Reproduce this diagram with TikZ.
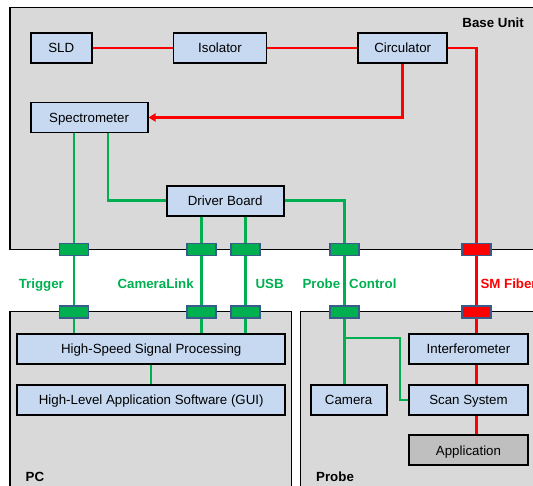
\documentclass[tikz,border=0pt]{standalone}
\usepackage{fontspec}
\setmainfont{Liberation Sans}
\usetikzlibrary{arrows.meta}
\definecolor{boxblue}{HTML}{C6D9F1}
\definecolor{unitgray}{HTML}{D9D9D9}
\definecolor{appgray}{HTML}{BFBFBF}
\definecolor{wiregreen}{HTML}{00B050}
\definecolor{portedge}{HTML}{385D8A}

\begin{document}
\begin{tikzpicture}[
  x=1pt, y=-1pt,
  >={Triangle[length=7pt,width=8pt]},
  font={\fontsize{13.3}{15}\selectfont},
  unitbox/.style={draw=black, fill=unitgray, line width=1.6pt},
  blknode/.style={draw=black, fill=boxblue, line width=1.8pt, minimum height=30pt, inner sep=2pt, text height=9.6pt, text depth=0pt},
  fibre/.style={draw=red, line width=2.6pt},
  wire/.style={draw=wiregreen, line width=2.4pt},
  port/.style={draw=portedge, line width=1.6pt, minimum width=29pt, minimum height=12pt, inner sep=0pt},
  grnport/.style={port, fill=wiregreen},
  redport/.style={port, fill=red},
  unitlbl/.style={font={\fontsize{13.3}{15}\selectfont\bfseries}, inner sep=0pt},
  linklbl/.style={font={\fontsize{13.3}{15}\selectfont\bfseries}, text=wiregreen, inner sep=0pt, anchor=base}
]
\useasboundingbox (0,0) rectangle (533,486);
\clip (0,0) rectangle (533,486);

% housings
\draw[unitbox] (10.2,7.5) rectangle (545,249.4);
\draw[unitbox] (10.2,311.6) rectangle (291.5,500);
\draw[unitbox] (300.3,311.6) rectangle (545,500);
\node[unitlbl, anchor=base east] (baselbl) at (524,27.8) {Base Unit};
\node[unitlbl, anchor=base west] (pclbl) at (25.5,481.4) {PC};
\node[unitlbl, anchor=base west] (probelbl) at (316,481.4) {Probe};

% base unit
\node[blknode, minimum width=61pt] (sld) at (61.2,48) {SLD};
\node[blknode, minimum width=93pt] (iso) at (220,48) {Isolator};
\node[blknode, minimum width=89pt] (circ) at (402.7,48) {Circulator};
\node[blknode, minimum width=117pt] (spec) at (89.1,117.5) {Spectrometer};
\node[blknode, minimum width=117pt] (drv) at (225.2,200.7) {Driver Board};

% pc
\node[blknode, minimum width=268pt] (hssp) at (151.2,349) {High-Speed Signal Processing};
\node[blknode, minimum width=268pt] (gui) at (151.2,399.7) {High-Level Application Software (GUI)};

% probe
\node[blknode, minimum width=119pt] (interf) at (468.5,349) {Interferometer};
\node[blknode, minimum width=119pt] (scan) at (468.5,399.7) {Scan System};
\node[blknode, minimum width=119pt, fill=appgray] (app) at (468.5,450.2) {Application};
\node[blknode, minimum width=76pt] (cam) at (348.6,399.7) {Camera};

% ports
\node[grnport] (trigA) at (74,249.4) {};
\node[grnport] (clA) at (201.5,249.4) {};
\node[grnport] (usbA) at (245.4,249.4) {};
\node[grnport] (pcA) at (344.5,249.4) {};
\node[redport] (smA) at (476.5,249.4) {};
\node[grnport] (trigB) at (74,312.3) {};
\node[grnport] (clB) at (201.5,312.3) {};
\node[grnport] (usbB) at (245.4,312.3) {};
\node[grnport] (pcB) at (344.5,312.3) {};
\node[redport] (smB) at (476.5,312.3) {};

\node[linklbl] (trigl) at (41.3,288.2) {Trigger};
\node[linklbl] (cll) at (155.6,288.2) {CameraLink};
\node[linklbl] (usbl) at (269.6,288.2) {USB};
\node[linklbl] (pcl) at (349.5,288.2) {Probe\hspace{9pt}Control};
\node[linklbl, text=red, anchor=base west] (sml) at (480.3,288.2) {SM Fiber};

% fibre
\draw[fibre] (sld) -- (iso);
\draw[fibre] (iso) -- (circ);
\draw[fibre] (circ.east) -| (smA);
\draw[fibre, ->] (circ.south) |- (spec.east);
\draw[fibre] (smA) -- (smB);
\draw[fibre] (smB) -- (smB |- interf.north);
\draw[fibre] (smB |- interf.south) -- (smB |- scan.north);
\draw[fibre] (smB |- scan.south) -- (smB |- app.north);

% electrical
\draw[wire] (trigA |- spec.south) -- (trigA);
\draw[wire] ([xshift=19pt]spec.south) |- (drv.west);
\draw[wire] (clA |- drv.south) -- (clA);
\draw[wire] (usbA |- drv.south) -- (usbA);
\draw[wire] (drv.east) -| (pcA);
\draw[wire] (trigA) -- (trigB);
\draw[wire] (clA) -- (clB);
\draw[wire] (usbA) -- (usbB);
\draw[wire] (pcA) -- (pcB);
\draw[wire] (trigB) -- (trigB |- hssp.north);
\draw[wire] (clB) -- (clB |- hssp.north);
\draw[wire] (usbB) -- (usbB |- hssp.north);
\draw[wire] (hssp) -- (gui);
\draw[wire] (pcB) -- (pcB |- cam.north);
\coordinate (split) at (344.5,338.2);
\coordinate (bend) at (399.7,338.2);
\draw[wire] (split) -- (bend) |- (scan.west);
\end{tikzpicture}
\end{document}
